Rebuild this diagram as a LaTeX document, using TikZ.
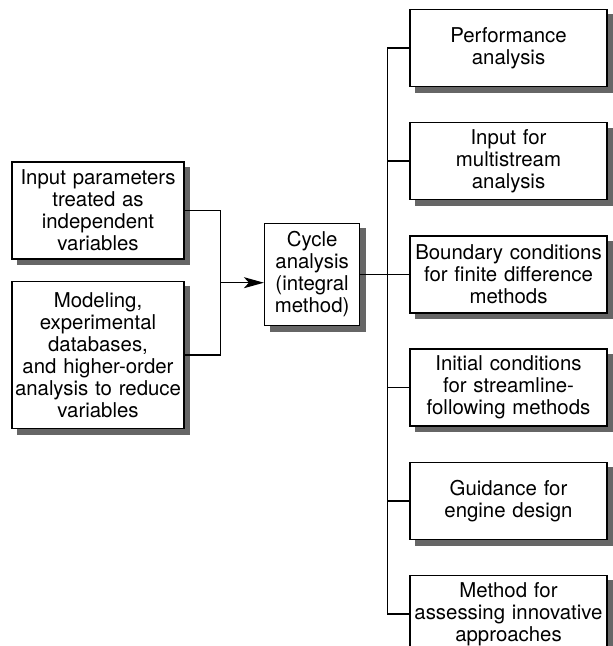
\documentclass[tikz,border=0pt]{standalone}
\usepackage{fontspec}
\setmainfont{TeX Gyre Heros}
\usetikzlibrary{calc, chains, arrows.meta, positioning, backgrounds}

\begin{document}
\begin{tikzpicture}[x=0.5pt, y=-0.5pt, start chain = going below, node distance = 17.4pt,
   line width=0.7pt,
   box/.style = {draw, fill=white, align=center, inner ysep=0pt,
      font=\fontsize{10.2}{11}\selectfont},
   inbox/.style = {box, text width=84pt, inner xsep=1pt},
   outbox/.style = {box, text width=96pt, inner xsep=1.25pt, minimum height=38.5pt}]
   \useasboundingbox (0,0) rectangle (612,646);

   \node[inbox, minimum height=48.5pt] (param) at (98,210.5)
      {Input parameters\\treated as\\independent\\variables};
   \node[inbox, minimum height=73.5pt, below=10.5pt of param] (model)
      {Modeling,\\experimental\\databases,\\and higher-order\\analysis to reduce\\variables};

   \node[outbox, on chain] (perf) at (508.5,48) {Performance\\analysis};
   \node[outbox, on chain] (multi) {Input for\\multistream\\analysis};
   \node[outbox, on chain] (bound) {Boundary conditions\\for finite difference\\methods};
   \node[outbox, on chain] (init) {Initial conditions\\for streamline-\\following methods};
   \node[outbox, on chain] (guide) {Guidance for\\engine design};
   \node[outbox, on chain] (assess) {Method for\\assessing innovative\\approaches};

   \node[box, text width=44pt, inner xsep=1.75pt, minimum height=51pt, left=24.5pt of bound] (cycle)
      {Cycle\\analysis\\(integral\\method)};

   % shadows
   \begin{scope}[on background layer]
   \foreach \n in {param, model, cycle, perf, multi, bound, init, guide, assess}
      \fill[black!60] ($(\n.south west)+(2.8pt,-2.8pt)$) rectangle ($(\n.north east)+(2.8pt,-2.8pt)$);
   \end{scope}

   \coordinate (join) at ($(param.east)!0.5!(model.east) + (18pt,0)$);
   \coordinate (trunk) at ($(bound.west) + (-11pt,0)$);

   \draw (param.east) -| (join |- model.east) -- (model.east);
   \draw[-{Stealth[length=10pt, width=5.5pt, inset=2.5pt]}] (join) -- (join -| cycle.west);
   \draw (cycle.east) -- (cycle.east -| trunk);
   \draw (perf.west -| trunk) -- (assess.west -| trunk);
   \foreach \n in {perf, multi, bound, init, guide, assess}
      \draw (\n.west -| trunk) -- (\n.west);

\end{tikzpicture}
\end{document}
